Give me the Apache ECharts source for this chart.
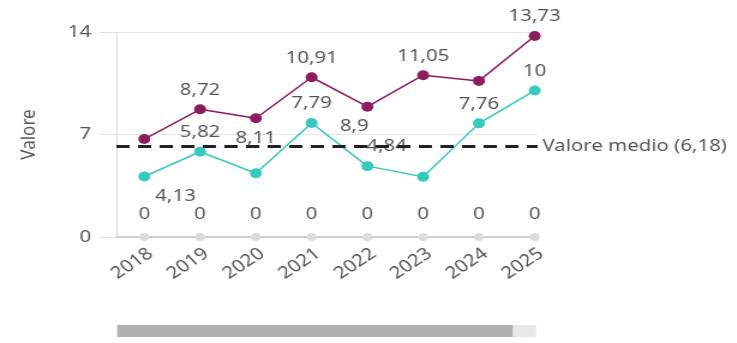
<!DOCTYPE html>
<html>
<head>
<meta charset="utf-8">
<script src="https://cdn.jsdelivr.net/npm/echarts@6/dist/echarts.min.js"></script>
<style>
html,body{margin:0;padding:0;background:#fff;overflow:hidden;}
#wrap{width:737px;height:343px;overflow:hidden;}
#chart{width:614px;height:343px;transform:scaleX(1.2);transform-origin:0 0;}
</style>
</head>
<body>
<div id="wrap"><div id="chart"></div></div>
<script>
// ---- data ----
const categories = ['2018','2019','2020','2021','2022','2023','2024','2025'];
const seriesA = [6.69, 8.72, 8.11, 10.91, 8.9, 11.05, 10.66, 13.73];
const seriesB = [4.13, 5.82, 4.35, 7.79, 4.84, 4.12, 7.76, 10];
const seriesZero = [0, 0, 0, 0, 0, 0, 0, 0];
const meanValue = 6.18;
const meanLabel = 'Valore medio';
const yTicks = [0, 7, 14];
const yName = 'Valore';

// ---- label placement (style) ----
const posA = ['hide','top','bottom','top','bottom','top','hide','top'];
const posB = ['bottom','top','hide','top','top','hide','top','top'];
const offA = [[0,0],[0,0],[0,0],[0,0],[-11,0],[0,0],[0,0],[0,0]];
const offB = [[26,0],[0,0],[0,0],[0,0],[16,0],[0,0],[0,0],[0,0]];

const fmt = v => String(v).replace('.', ',');
const FONT = 'Noto Sans';
const TXT = '#555';
const FS = 17;

function build(vals, pos, off) {
  return vals.map((v, i) => ({
    value: [i, v],
    label: pos[i] === 'hide' ? { show: false } : { show: true, position: pos[i], offset: off ? off[i] : [0, 0] }
  }));
}

const chart = echarts.init(document.getElementById('chart'), null, { renderer: 'canvas' });
chart.setOption({
  animation: false,
  textStyle: { fontFamily: FONT },
  grid: { left: 97, right: 166, top: 32, bottom: 106 },
  xAxis: {
    type: 'value',
    min: -0.5,
    max: categories.length - 0.5,
    axisLine: { show: true, onZero: false, lineStyle: { color: '#d0d0d0', width: 2 } },
    axisTick: { show: false },
    axisLabel: {
      customValues: categories.map((c, i) => i),
      formatter: v => categories[Math.round(v)] || '',
      rotate: 38, color: TXT, fontSize: FS, fontFamily: FONT, margin: 8, verticalAlign: 'top'
    },
    splitLine: { show: false }
  },
  yAxis: {
    type: 'value',
    min: yTicks[0],
    max: yTicks[yTicks.length - 1],
    interval: yTicks[1] - yTicks[0],
    name: yName,
    nameLocation: 'middle',
    nameGap: 64,
    nameTextStyle: { color: TXT, fontSize: FS, fontFamily: FONT },
    axisLine: { show: true, onZero: false, lineStyle: { color: '#d8d8d8', width: 1 } },
    axisTick: { show: true, length: 14, lineStyle: { color: '#e0e0e0' } },
    axisLabel: { color: TXT, fontSize: FS, fontFamily: FONT, margin: 21 },
    splitLine: { show: true, lineStyle: { color: '#e6e6e6' } }
  },
  dataZoom: [{
    type: 'slider',
    xAxisIndex: 0,
    start: 0,
    end: 94.4,
    filterMode: 'none',
    left: 97,
    right: 168,
    top: 325,
    height: 12,
    showDetail: false,
    showDataShadow: false,
    brushSelect: false,
    borderColor: 'transparent',
    backgroundColor: '#e8e8e8',
    fillerColor: '#b0b0b0',
    handleSize: 0,
    handleStyle: { opacity: 0 },
    moveHandleSize: 0,
    moveHandleStyle: { opacity: 0 },
    emphasis: { handleStyle: { opacity: 0 }, moveHandleStyle: { opacity: 0 } }
  }],
  series: [
    {
      type: 'line',
      data: seriesZero.map((v, i) => [i, v]),
      symbol: 'circle',
      symbolSize: 8,
      itemStyle: { color: '#dcdcdc' },
      lineStyle: { width: 0, opacity: 0 },
      label: { show: true, position: 'top', distance: 10, color: TXT, fontSize: FS, fontFamily: FONT, formatter: p => fmt(p.value[1]) },
      z: 1
    },
    {
      type: 'line',
      data: build(seriesA, posA, offA),
      symbol: 'circle',
      symbolSize: 10,
      itemStyle: { color: '#8B1D5E' },
      lineStyle: { width: 1.5, color: '#8B1D5E' },
      label: { color: TXT, fontSize: FS, fontFamily: FONT, distance: 6, formatter: p => fmt(p.value[1]) },
      z: 3
    },
    {
      type: 'line',
      data: build(seriesB, posB, offB),
      symbol: 'circle',
      symbolSize: 10,
      itemStyle: { color: '#36C9BC' },
      lineStyle: { width: 1.5, color: '#36C9BC' },
      label: { color: TXT, fontSize: FS, fontFamily: FONT, distance: 6, formatter: p => fmt(p.value[1]) },
      markLine: {
        silent: true,
        symbol: 'none',
        data: [{ yAxis: meanValue }],
        lineStyle: { color: '#222', type: [11, 7], width: 3 },
        label: { show: true, position: 'end', distance: 4, color: TXT, fontSize: FS, fontFamily: FONT,
                 formatter: meanLabel + ' (' + fmt(meanValue) + ')' }
      },
      z: 4
    }
  ]
});
</script>
</body>
</html>
